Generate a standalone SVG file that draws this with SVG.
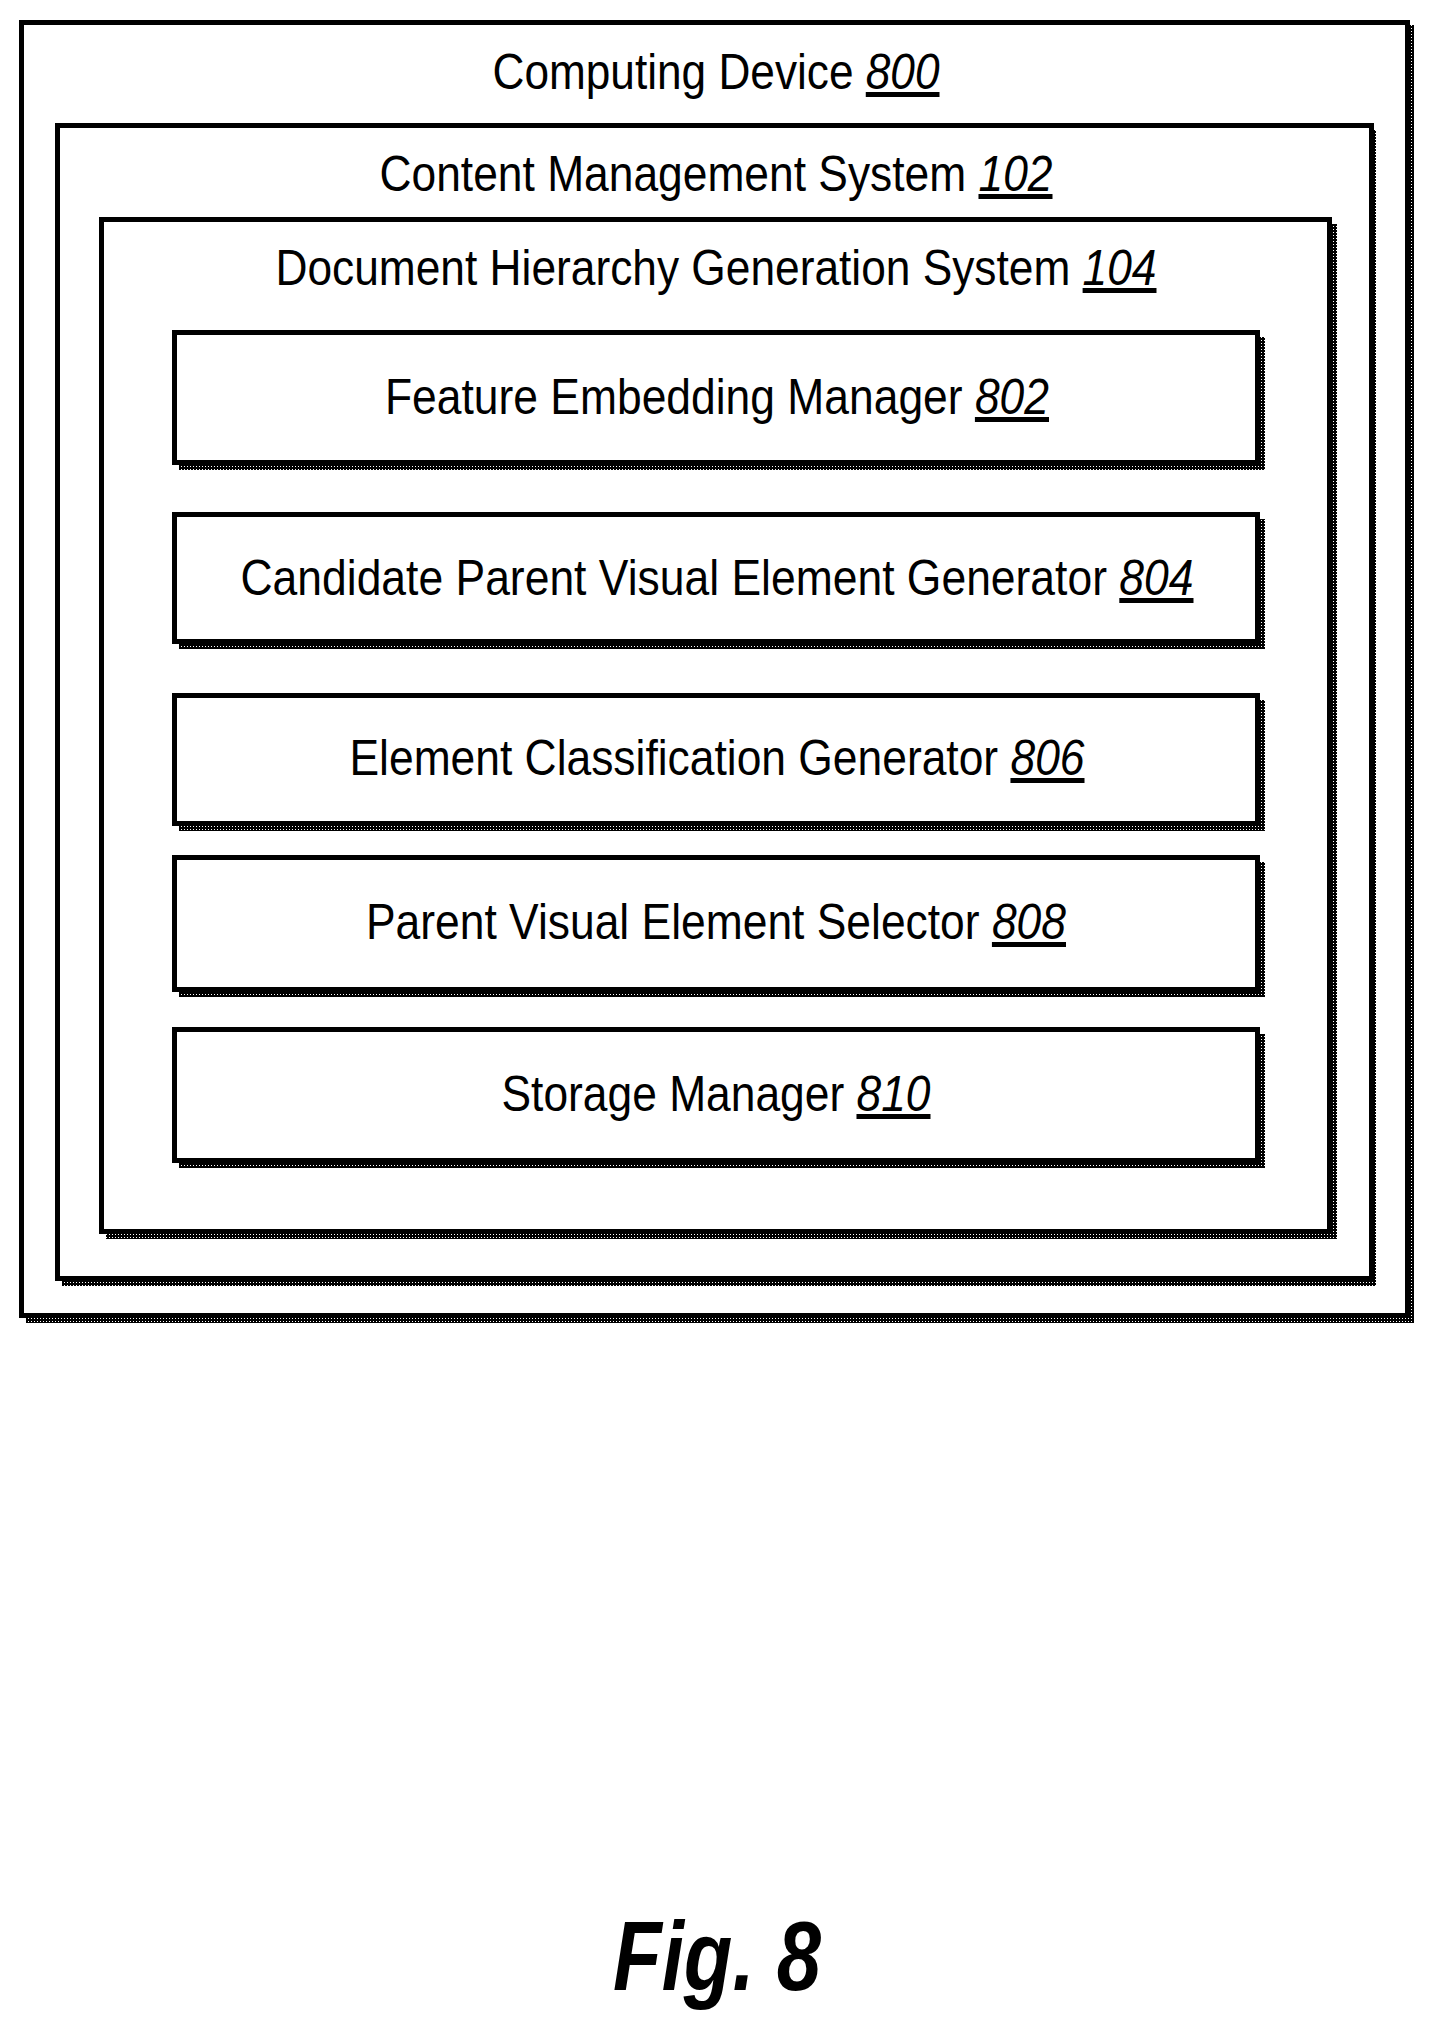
<svg xmlns="http://www.w3.org/2000/svg" width="1439" height="2035" viewBox="0 0 1439 2035">
<defs>
<pattern id="dots" width="3" height="3" patternUnits="userSpaceOnUse"><rect width="3" height="3" fill="#000"/><rect x="1" y="1" width="1" height="1" fill="#fff"/></pattern>
</defs>
<style>
.b{fill:#fff;stroke:#000;stroke-width:5}
.s{fill:url(#dots)}
.t{font-family:"Liberation Sans Narrow","Liberation Sans",Arial,sans-serif;font-size:50px;fill:#000;text-anchor:middle}
.u{text-decoration:underline;font-style:italic}
</style>
<rect width="1439" height="2035" fill="#fff"/>
<g id="computing-device">
<rect class="s" x="26" y="25" width="1388" height="1298"/>
<rect class="b" x="21.5" y="22.5" width="1386" height="1293"/>
<text class="t" x="716" y="89" textLength="447" lengthAdjust="spacingAndGlyphs">Computing Device <tspan class="u">800</tspan></text>
</g>
<g id="content-management-system">
<rect class="s" x="62" y="130" width="1314" height="1156"/>
<rect class="b" x="57.5" y="125.5" width="1314" height="1153"/>
<text class="t" x="716" y="191" textLength="673" lengthAdjust="spacingAndGlyphs">Content Management System <tspan class="u">102</tspan></text>
</g>
<g id="document-hierarchy-generation-system">
<rect class="s" x="106" y="224" width="1231" height="1015"/>
<rect class="b" x="101.5" y="219.5" width="1228" height="1012"/>
<text class="t" x="716" y="285" textLength="881" lengthAdjust="spacingAndGlyphs">Document Hierarchy Generation System <tspan class="u">104</tspan></text>
</g>
<g id="feature-embedding-manager">
<rect class="s" x="179" y="337" width="1086" height="133"/>
<rect class="b" x="174.5" y="332.5" width="1083" height="130"/>
<text class="t" x="717" y="414" textLength="664" lengthAdjust="spacingAndGlyphs">Feature Embedding Manager <tspan class="u">802</tspan></text>
</g>
<g id="candidate-parent-visual-element-generator">
<rect class="s" x="179" y="519" width="1086" height="130"/>
<rect class="b" x="174.5" y="514.5" width="1083" height="127"/>
<text class="t" x="717" y="595" textLength="953" lengthAdjust="spacingAndGlyphs">Candidate Parent Visual Element Generator <tspan class="u">804</tspan></text>
</g>
<g id="element-classification-generator">
<rect class="s" x="179" y="700" width="1086" height="131"/>
<rect class="b" x="174.5" y="695.5" width="1083" height="128"/>
<text class="t" x="717" y="775" textLength="735" lengthAdjust="spacingAndGlyphs">Element Classification Generator <tspan class="u">806</tspan></text>
</g>
<g id="parent-visual-element-selector">
<rect class="s" x="179" y="862" width="1086" height="135"/>
<rect class="b" x="174.5" y="857.5" width="1083" height="132"/>
<text class="t" x="716" y="939" textLength="700" lengthAdjust="spacingAndGlyphs">Parent Visual Element Selector <tspan class="u">808</tspan></text>
</g>
<g id="storage-manager">
<rect class="s" x="179" y="1034" width="1086" height="134"/>
<rect class="b" x="174.5" y="1029.5" width="1083" height="131"/>
<text class="t" x="716" y="1111" textLength="429" lengthAdjust="spacingAndGlyphs">Storage Manager <tspan class="u">810</tspan></text>
</g>
<g id="connectors"></g>
<text x="717" y="1990" font-family="'Liberation Sans',Arial,sans-serif" font-size="98" font-weight="bold" font-style="italic" text-anchor="middle" textLength="208" lengthAdjust="spacingAndGlyphs">Fig. 8</text>
</svg>
